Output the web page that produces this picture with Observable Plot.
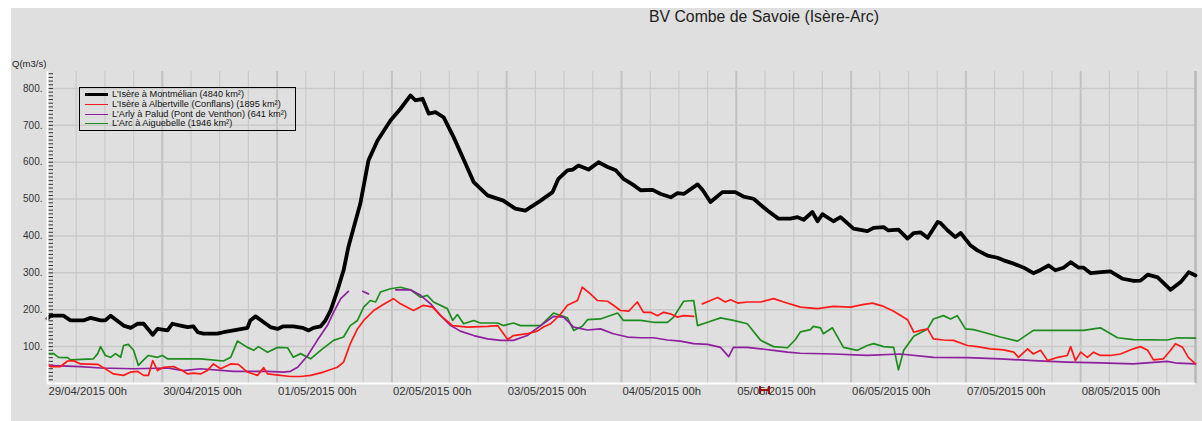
<!DOCTYPE html>
<html>
<head>
<meta charset="utf-8">
<script src="https://cdn.jsdelivr.net/npm/d3@7"></script>
<script src="https://cdn.jsdelivr.net/npm/@observablehq/plot@0.6"></script>
<style>
  body { margin: 0; background: #ffffff; font-family: "Liberation Sans", Arial, sans-serif; }
  #page { position: relative; width: 1202px; height: 421px; overflow: hidden; }
  #panel { position: absolute; left: 11px; top: 8px; width: 1191px; height: 413px; background: #dfdfdf; }
  #title { position: absolute; left: 649px; top: 8px; font-size: 15.8px; color: #222; white-space: nowrap; }
  #ylab { position: absolute; left: 12px; top: 58px; font-size: 9.5px; color: #222; }
  #chart { position: absolute; left: 0; top: 40px; }
  #legend { position: absolute; left: 79px; top: 87px; width: 215px; height: 42px; border: 1px solid #000; }
  .row { position: absolute; left: 5px; height: 10px; font-size: 9.2px; color: #111; white-space: nowrap; line-height: 10px; }
  .sw { display: inline-block; width: 23px; vertical-align: middle; margin-right: 4px; }
  #marker { position: absolute; left: 759px; top: 386px; width: 7px; height: 8px; border-left: 2px solid #a01010; border-right: 2px solid #a01010; }
  #marker::after { content: ""; position: absolute; left: 0; right: 0; top: 3px; border-top: 2px solid #a01010; }
</style>
</head>
<body>
<div id="page">
  <div id="panel"></div>
  <div id="title">BV Combe de Savoie (Isère-Arc)</div>
  <div id="ylab">Q(m3/s)</div>
  <div id="chart"></div>
  <div id="legend"></div>
  <div id="marker"></div>
</div>
<script>
// ---- Data (hours since 29/04/2015 00h, discharge m3/s) ----
const seriesNames = [
  "L'Isère à Montmélian (4840 km²)",
  "L'Isère à Albertville (Conflans) (1895 km²)",
  "L'Arly à Palud (Pont de Venthon) (641 km²)",
  "L'Arc à Aiguebelle (1946 km²)"
];
const seriesColors = ["#000000", "#ff1a1a", "#8e1f9e", "#1e8c1e"];

const montmelianH = [0,0.6,3.3,4.8,7.5,9.0,11.1,12.1,13.2,15.9,17.4,18.8,20.1,22.0,23.0,25.1,26.1,27.8,29.3,30.5,31.4,32.6,35.5,36.8,38.9,41.8,42.4,43.5,45.2,46.6,48.1,49.3,51.4,53.3,54.6,55.6,57.1,58.1,59.2,60.6,61.9,62.9,65.4,67.1,69.0,71.7,73.8,75.9,76.9,78.4,79.7,81.1,82.8,84.9,87.4,89.1,92.0,95.3,97.8,99.9,103.1,105.6,106.8,108.7,109.8,111.0,113.1,115.2,117.1,118.8,120.4,122.3,124.0,126.5,128.2,130.3,131.7,133.0,135.9,137.0,138.6,141.1,143.8,145.5,147.6,150.5,152.8,155.3,156.8,158.1,159.9,161.0,162.0,164.3,165.8,168.5,171.4,172.7,174.8,175.8,177.9,179.8,181.1,182.5,184.0,186.1,186.7,188.2,189.8,190.9,193.0,194.4,196.5,198.6,199.9,202.0,204.1,206.1,207.6,209.3,210.7,212.4,213.9,215.6,216.6,218.1,220.2,222.2,224.8,227.1,228.5,230.0,232.1,234.8,236.9,238.6,240];
const montmelianQ = [176,184,184,171,171,178,171,171,184,157,151,162,162,132,148,144,162,157,153,155,139,135,135,139,144,151,171,182,166,153,148,155,155,151,144,151,155,171,198,252,307,370,488,605,659,713,745,781,768,772,732,736,722,668,596,546,510,496,474,469,496,519,555,578,580,591,580,600,587,578,555,540,524,525,514,505,516,514,540,524,492,519,519,507,501,469,447,447,451,444,465,440,459,440,451,420,413,422,424,415,417,393,408,410,395,438,435,415,397,408,374,361,347,341,334,325,314,299,308,320,307,314,329,314,314,299,302,304,284,278,279,295,288,254,275,302,293];

const albertvilleH = [0,0.6,2.7,4.2,5.4,6.9,10.5,11.7,13.8,15.9,17.4,18.8,20.1,21.1,22.0,23.0,24.3,26.3,28.2,29.3,30.5,32.0,33.4,34.7,36.2,38.3,39.9,41.8,43.9,45.2,46.0,48.7,50.8,52.9,55.0,57.7,60.6,61.9,63.3,64.8,66.1,68.2,70.2,72.3,73.8,76.5,78.6,80.5,82.2,84.7,87.8,92.0,94.1,96.2,97.4,100.3,102.4,103.7,105.2,107.2,108.7,110.8,111.8,113.5,115.0,117.1,118.3,119.8,121.5,123.3,124.6,126.1,127.5,128.8,130.2,131.7,133.0,135.1,136.0,136.9,138.6,140.1,141.7,142.8,144.3,146.3,149.1,151.8,153.9,157.4,161.0,164.3,167.9,170.4,172.5,174.8,176.9,179.8,181.1,182.5,184.0,185.2,187.3,189.4,192.3,194.4,197.1,199.9,202.0,203.0,204.9,206.1,207.6,209.1,211.2,213.2,213.9,214.9,216.0,217.4,218.7,220.1,222.2,224.3,227.0,228.5,230.0,231.2,233.3,234.8,235.8,237.3,238.5,240];
const albertvilleQ = [53,46,46,61,62,53,52,43,26,22,31,33,22,22,62,35,44,46,35,26,28,26,35,53,40,53,52,31,22,43,26,22,19,19,22,31,44,58,108,148,171,198,214,230,216,198,212,207,184,157,153,155,157,119,130,135,142,153,162,187,212,225,261,243,225,223,212,198,196,221,193,193,184,193,189,180,184,182,null,216,225,233,221,227,218,221,221,230,221,207,203,209,207,214,218,209,196,173,139,144,148,121,118,117,103,100,94,91,85,71,94,80,90,62,71,76,100,62,85,71,85,76,76,80,94,100,90,64,67,90,108,98,71,53];

const paludH = [0,6.9,11.1,18.0,25.1,28.4,32.0,38.9,46.0,49.3,50.8,52.3,54.4,56.4,58.5,59.8,61.3,62.9,64.5,65.9,67.1,70.0,72.8,75.9,78.0,80.1,82.2,84.3,86.3,89.1,92.0,94.7,97.4,100.3,103.1,105.8,107.9,110.0,112.9,115.6,118.3,121.3,124.0,126.7,129.6,132.3,135.1,138.0,140.7,142.4,143.4,146.3,149.1,151.8,154.7,157.4,164.3,171.4,178.3,185.2,192.3,199.2,206.1,213.2,220.1,227.0,234.1,236.2,240];
const paludQ = [49,46,42,40,42,35,40,33,33,31,33,44,76,117,157,193,230,250,null,250,243,null,254,254,239,216,184,157,142,130,121,117,117,130,157,182,180,153,145,148,135,126,124,124,118,115,108,106,98,73,98,98,94,90,85,82,80,76,80,71,70,67,62,58,56,53,60,55,53];

const aiguebelleH = [0,1.3,2.3,4.2,4.8,9.6,10.5,11.1,12.1,13.2,14.2,15.3,15.9,16.9,18.0,19.0,20.1,21.1,23.0,24.0,25.1,32.0,36.8,38.3,39.7,41.8,43.1,44.1,46.0,48.1,50.2,51.4,52.9,55.0,57.1,59.8,61.9,63.3,64.8,66.1,67.5,68.6,69.6,71.7,73.8,75.9,78.0,79.4,80.7,83.6,84.7,85.7,87.0,89.1,90.5,94.1,95.3,97.4,98.9,103.1,105.8,108.7,110.0,111.8,112.9,115.6,119.2,120.4,124.0,126.7,129.6,130.9,133.0,135.1,135.9,138.0,140.7,143.4,146.3,149.1,151.8,154.7,156.4,157.4,159.5,160.1,161.6,162.2,164.1,166.4,169.3,171.4,172.7,174.8,176.9,177.9,179.0,181.1,184.0,185.2,187.3,188.8,190.2,191.9,193.6,195.7,199.2,202.8,206.1,211.8,216.6,220.1,223.7,227.0,234.1,236.2,240];
const aiguebelleQ = [81,81,71,70,64,67,81,100,76,71,81,71,103,106,90,49,64,76,71,76,67,67,61,71,115,98,90,100,85,98,97,71,81,67,90,117,126,157,171,207,225,221,248,257,261,254,234,239,221,203,171,187,162,171,164,164,157,164,157,157,191,178,144,155,173,175,191,171,171,166,166,180,223,225,157,166,178,171,162,117,100,97,120,140,146,155,151,135,151,98,90,103,108,100,98,37,90,128,148,175,184,175,184,148,146,139,126,115,144,144,144,151,124,119,118,124,123];

const hValues = [montmelianH, albertvilleH, paludH, aiguebelleH];
const qValues = [montmelianQ, albertvilleQ, paludQ, aiguebelleQ];
const lineWidths = [3.8, 1.7, 1.7, 1.7];

const yTickLabels = [100, 200, 300, 400, 500, 600, 700, 800];
const start = Date.UTC(2015, 3, 29);
const end = Date.UTC(2015, 4, 9);
const hour = 3600e3;

const toDate = h => new Date(start + h * hour);
const series = seriesNames.map((name, i) =>
  hValues[i].map((h, j) => ({name, t: toDate(h), q: qValues[i][j] == null ? NaN : qValues[i][j]})));

const dayTicks = d3.range(0, 10).map(d => toDate(d * 24));
const sixHourTicks = d3.range(1, 40).filter(k => k % 4 !== 0).map(k => toDate(k * 6));
const minorY = d3.range(10, 850, 10);

const W = 1202, H = 381, mL = 47, mR = 7;

const chart = Plot.plot({
  width: W,
  height: H,
  marginLeft: mL,
  marginRight: mR,
  marginTop: 31,
  marginBottom: 38,
  style: {background: "transparent", fontFamily: "Liberation Sans, Arial, sans-serif", color: "#333"},
  x: {type: "utc", domain: [new Date(start), new Date(end)]},
  y: {domain: [0, 846]},
  marks: [
    Plot.ruleX(sixHourTicks, {stroke: "#cacaca", strokeWidth: 1.2}),
    Plot.ruleX(dayTicks.slice(1), {stroke: "#c2c2c2", strokeWidth: 2}),
    Plot.ruleY(yTickLabels, {stroke: "#cacaca", strokeWidth: 1.5}),
    Plot.ruleX([new Date(end)], {stroke: "#b8b8b8", strokeWidth: 2.5}),
    Plot.tickY(minorY, {y: d => d, stroke: "#333", strokeWidth: 1, insetLeft: 1, insetRight: W - mL - mR - 6}),
    ...series.map((s, i) => Plot.line(s, {x: "t", y: "q", stroke: seriesColors[i], strokeWidth: lineWidths[i], strokeLinejoin: "round", curve: "linear"})).reverse(),
    Plot.ruleY([0], {stroke: "#ffffff", strokeWidth: 2}),
    Plot.ruleX([new Date(start)], {stroke: "#ffffff", strokeWidth: 2}),
    Plot.axisY({ticks: yTickLabels, tickFormat: d => d + ".", tickSize: 0, tickPadding: 5, fontSize: 10, label: null}),
    Plot.axisX({ticks: dayTicks, tickFormat: d3.utcFormat("%d/%m/%Y %Hh"), tickSize: 0, tickPadding: 3, textAnchor: "start", dx: 1, fontSize: 11.3, label: null})
  ]
});
document.getElementById("chart").appendChild(chart);

const legend = document.getElementById("legend");
seriesNames.forEach((name, i) => {
  const row = document.createElement("div");
  row.className = "row";
  row.style.top = (1 + i * 9.8) + "px";
  const sw = document.createElement("span");
  sw.className = "sw";
  sw.style.borderTop = (i === 0 ? 3.5 : 1.8) + "px solid " + seriesColors[i];
  row.appendChild(sw);
  row.appendChild(document.createTextNode(name));
  legend.appendChild(row);
});
</script>
</body>
</html>
